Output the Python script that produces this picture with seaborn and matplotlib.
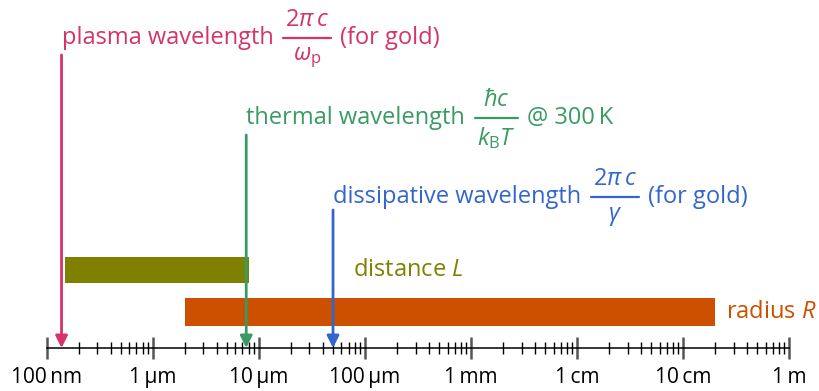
import matplotlib
matplotlib.use("Agg")
import matplotlib.pyplot as plt
import matplotlib.ticker as mticker
from matplotlib.lines import Line2D
from matplotlib.transforms import IdentityTransform
import seaborn as sns

# ── Données (mètres) ──────────────────────────────────────────
tick_pos    = [1e-7, 1e-6, 1e-5, 1e-4, 1e-3, 1e-2, 1e-1, 1.0]
tick_labels = ["100\u2009nm", "1\u2009µm", "10\u2009µm", "100\u2009µm",
               "1\u2009mm", "1\u2009cm", "10\u2009cm", "1\u2009m"]

arrow_pos    = [1.38e-7, 7.6e-6, 5.0e-5]
arrow_prefix = ["plasma wavelength", "thermal wavelength", "dissipative wavelength"]
arrow_num    = [r"$2\pi\,c$", r"$\hbar c$", r"$2\pi\,c$"]
arrow_den    = [r"$\omega_\mathrm{p}$", r"$k_\mathrm{B}T$", r"$\gamma$"]
arrow_suffix = ["(for gold)", "@ 300\u2009K", "(for gold)"]
arrow_colors = ["#d6336c", "#3a9a64", "#3366cc"]

bar_names  = ["distance $L$", "radius $R$"]
bar_start  = [1.5e-7, 2.0e-6]
bar_end    = [8.0e-6, 0.2]
bar_colors = ["#808000", "#cc5000"]

# ── Style ─────────────────────────────────────────────────────
sns.set_theme(style="white")
plt.rcParams["font.family"] = ["Open Sans", "DejaVu Sans"]
plt.rcParams["mathtext.fontset"] = "custom"
plt.rcParams["mathtext.rm"] = "Open Sans"
plt.rcParams["mathtext.it"] = "Open Sans:italic"
plt.rcParams["mathtext.bf"] = "Open Sans:bold"

FS = 17

fig = plt.figure(figsize=(8.2, 3.91), dpi=100)
# axe log de 100 nm (x=47 px) à 1 m (x=789 px), ligne à y=348 px
ax = fig.add_axes([46.7 / 820, 43 / 391, 742.6 / 820, 348 / 391])
ax.set_xscale("log")
ax.set_xlim(1e-7, 1.0)
ax.set_ylim(348, 0)   # y en pixels depuis le haut

for s in ["top", "left", "right"]:
    ax.spines[s].set_visible(False)
ax.spines["bottom"].set_linewidth(1.1)
ax.spines["bottom"].set_color("black")
ax.set_yticks([])
ax.set_facecolor("none")

ax.xaxis.set_major_locator(mticker.FixedLocator(tick_pos))
ax.xaxis.set_major_formatter(mticker.FixedFormatter(tick_labels))
ax.xaxis.set_minor_locator(mticker.LogLocator(base=10, subs=range(2, 10), numticks=20))
ax.xaxis.set_minor_formatter(mticker.NullFormatter())
ax.tick_params(axis="x", which="major", direction="inout", length=16, width=1.8,
               color="#555555", labelsize=15, pad=6, bottom=True, labelcolor="black")
ax.tick_params(axis="x", which="minor", direction="inout", length=9, width=1.0,
               color="black", bottom=True)

# ── Barres ────────────────────────────────────────────────────
bar_y = [270, 312]
bar_h = [26, 28]
label_off = [104, 11]   # pixels après la fin de la barre
for name, x0, x1, c, y, h, off in zip(bar_names, bar_start, bar_end, bar_colors,
                                      bar_y, bar_h, label_off):
    ax.barh(y, x1 - x0, left=x0, height=h, color=c, edgecolor="none", zorder=2)
    ax.annotate(name, xy=(x1, y), xytext=(off, 0), textcoords="offset pixels",
                ha="left", va="center", color=c, fontsize=FS, annotation_clip=False)

# ── Flèches + étiquettes avec fraction ────────────────────────
renderer = fig.canvas.get_renderer()


def label_frac(x, y, prefix, num, den, suffix, color):
    ox, oy = ax.transData.transform((x, y))
    t = ax.text(x, y, prefix, ha="left", va="center", color=color,
                fontsize=FS, clip_on=False)
    bb = t.get_window_extent(renderer)
    kw = dict(xy=(x, y), textcoords="offset pixels", ha="center", color=color,
              fontsize=FS, annotation_clip=False)
    tn = ax.annotate(num, xytext=(0, 6), va="bottom", **kw)
    td = ax.annotate(den, xytext=(0, -7), va="top", **kw)
    fw = max(tn.get_window_extent(renderer).width,
             td.get_window_extent(renderer).width) + 4
    fx0 = bb.x1 + 10
    cx = fx0 + fw / 2
    tn.xyann = (cx - ox, 6)
    td.xyann = (cx - ox, -7)
    fig.add_artist(Line2D([fx0, fx0 + fw], [oy, oy], transform=IdentityTransform(),
                          color=color, lw=1.6))
    ax.annotate(suffix, xy=(x, y), xytext=(fx0 + fw + 9 - ox, 0),
                textcoords="offset pixels", ha="left", va="center", color=color,
                fontsize=FS, annotation_clip=False)


arrow_top = [55, 135, 210]
text_y    = [38, 118, 197]
for i, x in enumerate(arrow_pos):
    c = arrow_colors[i]
    ax.annotate("", xy=(x, 348), xytext=(x, arrow_top[i]),
                arrowprops=dict(arrowstyle="-|>", color=c, lw=2,
                                mutation_scale=18, shrinkA=0, shrinkB=0),
                zorder=3, annotation_clip=False)
    label_frac(x, text_y[i], arrow_prefix[i], arrow_num[i], arrow_den[i],
               arrow_suffix[i], c)

plt.savefig("out.png", dpi=100)
